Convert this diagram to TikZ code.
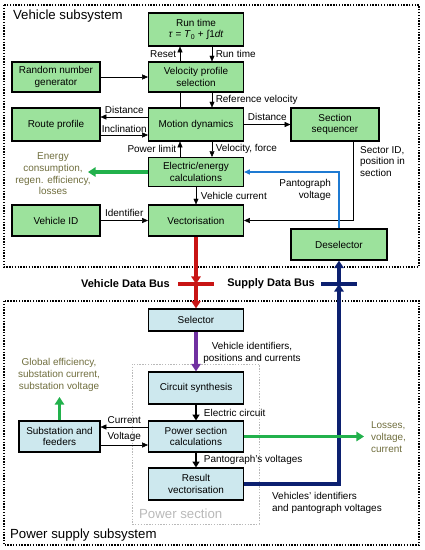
\documentclass[tikz,border=0pt]{standalone}
\usepackage{fontspec}
\setmainfont{Liberation Sans}
\usetikzlibrary{arrows.meta}
\definecolor{boxgreen}{RGB}{156,226,156}
\definecolor{boxblue}{RGB}{205,232,238}
\definecolor{olivetxt}{RGB}{112,110,62}
\definecolor{arrgreen}{RGB}{34,177,76}
\definecolor{wireblue}{RGB}{30,122,210}
\definecolor{busnavy}{RGB}{12,32,112}
\definecolor{busred}{RGB}{200,20,20}
\definecolor{selpurple}{RGB}{112,48,160}

\begin{document}
\begin{tikzpicture}[x=0.03cm,y=-0.03cm,>={Triangle[length=1.7mm,width=1.5mm]},
  font=\fontsize{8.5}{10}\selectfont,
  vblk/.style={draw,line width=1pt,fill=boxgreen,align=center,minimum width=2.85cm,minimum height=0.99cm,inner sep=1pt},
  pblk/.style={vblk,fill=boxblue},
  lbl/.style={inner sep=3pt},
  note/.style={text=olivetxt,align=center},
  fat/.style={line width=2.6pt,-{Triangle[length=6.5pt,width=8pt]}},
  thickarr/.style={line width=1.6pt,-{Triangle[length=5pt,width=6pt]}},
  subsysbox/.style={draw,line width=0.9pt,dash pattern=on 1.2pt off 1.2pt},
  biglbl/.style={font=\fontsize{11.3}{13}\selectfont},
  busl/.style={font=\fontsize{9.4}{11}\selectfont\bfseries}]
  \useasboundingbox (0,0) rectangle (425,550);

  \draw[subsysbox] (4,5) rectangle (419,267);
  \draw[subsysbox] (4,301) rectangle (419,545);
  \draw[subsysbox,gray!55,line width=0.6pt] (132,364) rectangle (259,524);
  \node[biglbl,anchor=west] (vsub) at (9,16) {Vehicle subsystem};
  \node[biglbl,anchor=west] (psub) at (6,535) {Power supply subsystem};
  \node[biglbl,anchor=west,text=gray!55] (psec) at (135,514) {Power section};

  \node[vblk] (runtime) at (196,29.5) {Run time\\\textit{τ} = \textit{T}\textsubscript{0} + ∫1\textit{dt}};
  \node[vblk,minimum height=0.9cm] (velsel) at (196,77) {Velocity profile\\selection};
  \node[vblk,minimum width=2.64cm,minimum height=0.9cm] (rng) at (56,77) {Random number\\generator};
  \node[vblk,minimum width=2.64cm] (route) at (56,124.5) {Route profile};
  \node[vblk] (motion) at (196,124.5) {Motion dynamics};
  \node[vblk,minimum width=2.64cm] (seq) at (335,124.5) {Section\\sequencer};
  \node[vblk,minimum height=0.87cm] (elec) at (196,172) {Electric/energy\\calculations};
  \node[vblk,minimum width=2.64cm,minimum height=0.93cm] (vehid) at (56,220.5) {Vehicle ID};
  \node[vblk,minimum height=0.93cm] (vect) at (196,220.5) {Vectorisation};
  \node[vblk,minimum width=2.88cm,minimum height=0.93cm] (desel) at (339,244.5) {Deselector};

  \node[pblk,minimum height=0.66cm] (selector) at (196,320) {Selector};
  \node[pblk,minimum height=0.96cm] (circ) at (196,388) {Circuit synthesis};
  \node[pblk,minimum height=0.93cm] (powcalc) at (196,436.5) {Power section\\calculations};
  \node[pblk,minimum height=0.96cm] (result) at (196,484) {Result\\vectorisation};
  \node[pblk,minimum width=2.43cm,minimum height=0.93cm] (subst) at (59.5,436.5) {Substation and\\feeders};

  \draw[->] ([xshift=-0.48cm]velsel.north) -- node[lbl,left]{Reset} ([xshift=-0.48cm]runtime.south);
  \draw[->] ([xshift=0.48cm]runtime.south) -- node[lbl,right]{Run time} ([xshift=0.48cm]velsel.north);
  \draw[->] (rng) -- (velsel);
  \draw ([xshift=-0.48cm]velsel.south) -- ([xshift=-0.48cm]motion.north);
  \draw[->] ([xshift=0.48cm]velsel.south) -- node[lbl,right]{Reference velocity} ([xshift=0.48cm]motion.north);
  \draw[->] ([yshift=0.225cm]motion.west) -- node[lbl,above]{Distance} ([yshift=0.225cm]route.east);
  \draw[->] ([yshift=-0.315cm]route.east) -- node[lbl,above,inner sep=2pt]{Inclination} ([yshift=-0.315cm]motion.west);
  \draw[->] (motion) -- node[lbl,above]{Distance} (seq);
  \draw[->] ([xshift=-0.48cm]elec.north) -- node[lbl,left]{Power limit} ([xshift=-0.48cm]motion.south);
  \draw[->] ([xshift=0.48cm]motion.south) -- node[lbl,right]{Velocity, force} ([xshift=0.48cm]elec.north);
  \draw[->] (elec) -- node[lbl,right,xshift=1pt]{Vehicle current} (vect);
  \draw[->] (vehid) -- node[lbl,above]{Identifier} (vect);
  \draw[->] ([xshift=0.54cm]seq.south) |- (vect.east);
  \node[anchor=north west,align=left] (secid) at (356,142) {Sector ID,\\position in\\section};
  \draw[->,wireblue,line width=0.9pt] (desel.north) |- (elec.east);
  \node[anchor=north east,align=right] (panto) at (335,175) {Pantograph\\voltage};

  \coordinate (energyend) at (88,172);
  \draw[fat,arrgreen] (elec.west) -- (energyend);
  \node[note] (energy) at (53,174) {Energy\\consumption,\\regen. efficiency,\\losses};

  \coordinate (vbus) at (196,284);
  \draw[busred,line width=2.6pt] ([xshift=-0.54cm]vbus) -- ([xshift=0.54cm]vbus);
  \draw[fat,busred] (vect.south) -- (vbus);
  \draw[fat,busred] (vbus) -- (selector.north);
  \node[busl,anchor=east] (vbl) at (174,284) {Vehicle Data Bus};

  \coordinate (sbus) at (339,284);
  \draw[busnavy,line width=2.6pt] ([xshift=-0.54cm]sbus) -- ([xshift=0.54cm]sbus);
  \draw[fat,busnavy] (result.east) -| (sbus);
  \draw[fat,busnavy] (sbus) -- (desel.south);
  \node[busl,anchor=east] (sbl) at (319,284) {Supply Data Bus};
  \node[anchor=north west,align=left] (vehpan) at (268,488) {Vehicles' identifiers\\and pantograph voltages};

  \draw[selpurple,line width=3pt,-{Triangle[length=6.5pt,width=8pt]}] (selector.south) -- (circ.north);
  \node[align=center] (vehids) at (252,353) {Vehicle identifiers,\\positions and currents};
  \draw[thickarr] (circ) -- node[lbl,right,xshift=3pt]{Electric circuit} (powcalc);
  \draw[thickarr] (powcalc) -- node[lbl,right,xshift=3pt]{Pantograph's voltages} (result);
  \draw[->] ([yshift=0.285cm]powcalc.west) -- node[lbl,above]{Current} ([yshift=0.285cm]subst.east);
  \draw[->] ([yshift=-0.255cm]subst.east) -- node[lbl,above]{Voltage} ([yshift=-0.255cm]powcalc.west);

  \coordinate (globend) at (59.5,397);
  \draw[fat,arrgreen] (subst.north) -- (globend);
  \node[note] (glob) at (59,375) {Global efficiency,\\substation current,\\substation voltage};
  \coordinate (lossend) at (364,436.5);
  \draw[fat,arrgreen] (powcalc.east) -- (lossend);
  \node[note,anchor=west,align=left] (losses) at (367,437) {Losses,\\voltage,\\current};
\end{tikzpicture}
\end{document}
